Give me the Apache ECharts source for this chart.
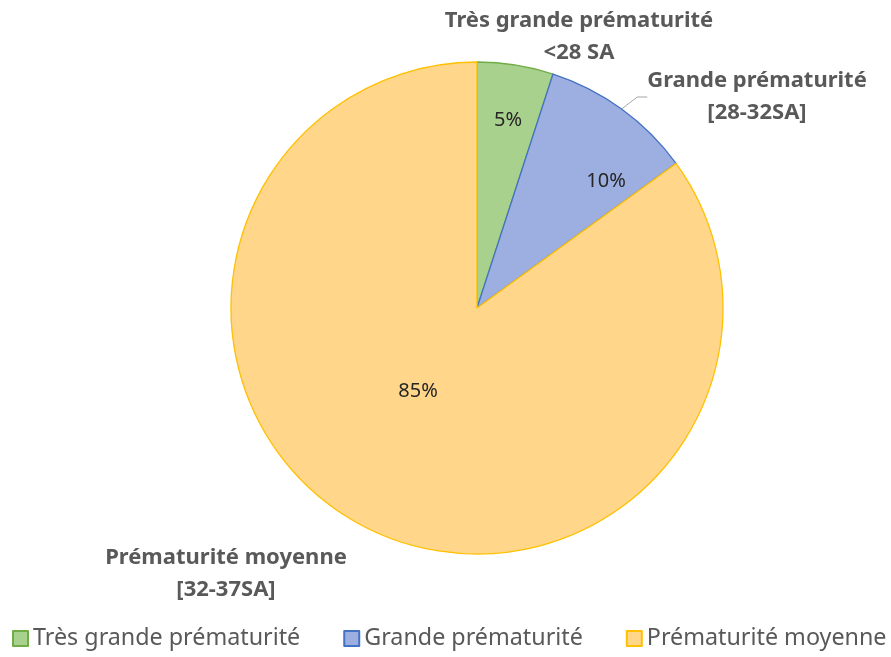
<!DOCTYPE html>
<html><head><meta charset="utf-8">
<script src="https://cdn.jsdelivr.net/npm/echarts@6/dist/echarts.min.js"></script>
<style>html,body{margin:0;padding:0;background:#fff}#c{width:891px;height:657px}</style>
</head><body><div id="c"></div>
<script>
const categories = ['Très grande prématurité', 'Grande prématurité', 'Prématurité moyenne'];
const outerLabels = ['Très grande prématurité\n<28 SA', 'Grande prématurité\n[28-32SA]', 'Prématurité moyenne\n[32-37SA]'];
const values = [5, 10, 85];
const fills = ['#A9D18E', '#9DAFE0', '#FFD68A'];
const borders = ['#70AD47', '#4472C4', '#FFC000'];

const innerPos = [[508, 120], [606, 181], [418, 391]];
const outerPos = [[579, 37], [757, 97], [226, 574]];

const chart = echarts.init(document.getElementById('c'));
const mk = (transparent) => categories.map((n, i) => ({
  name: n, value: values[i],
  itemStyle: transparent ? {color: 'transparent', borderWidth: 0} : {color: fills[i], borderColor: borders[i], borderWidth: 1.3},
  labelLine: {show: transparent && i === 1}
}));
chart.setOption({
  animation: false,
  legend: {
    top: 627, left: 12, padding: 0, width: 879, itemWidth: 15, itemHeight: 15, itemGap: 43,
    icon: 'rect',
    textStyle: {fontFamily: 'Noto Sans', fontSize: 23.3, color: '#595959'},
    data: categories
  },
  series: [
    {
      type: 'pie', center: [477, 308], radius: 246, startAngle: 90, clockwise: true,
      data: mk(false),
      label: {position: 'inside', formatter: '{d}%', fontFamily: 'Noto Sans', fontSize: 20, color: '#262626'},
      labelLayout: (p) => ({x: innerPos[p.dataIndex][0], y: innerPos[p.dataIndex][1], align: 'center', verticalAlign: 'middle'})
    },
    {
      type: 'pie', center: [477, 308], radius: 246, startAngle: 90, clockwise: true, silent: true, z: 1,
      data: mk(true),
      label: {position: 'outside', overflow: 'none', formatter: (p) => outerLabels[p.dataIndex], fontFamily: 'Noto Sans', fontWeight: 'bold', fontSize: 22, lineHeight: 32, color: '#595959', align: 'center'},
      labelLine: {length: 10, length2: 10, lineStyle: {color: '#A6A6A6', width: 1}},
      labelLayout: (p) => ({x: outerPos[p.dataIndex][0], y: outerPos[p.dataIndex][1], align: 'center', verticalAlign: 'middle'})
    }
  ]
});
</script></body></html>
